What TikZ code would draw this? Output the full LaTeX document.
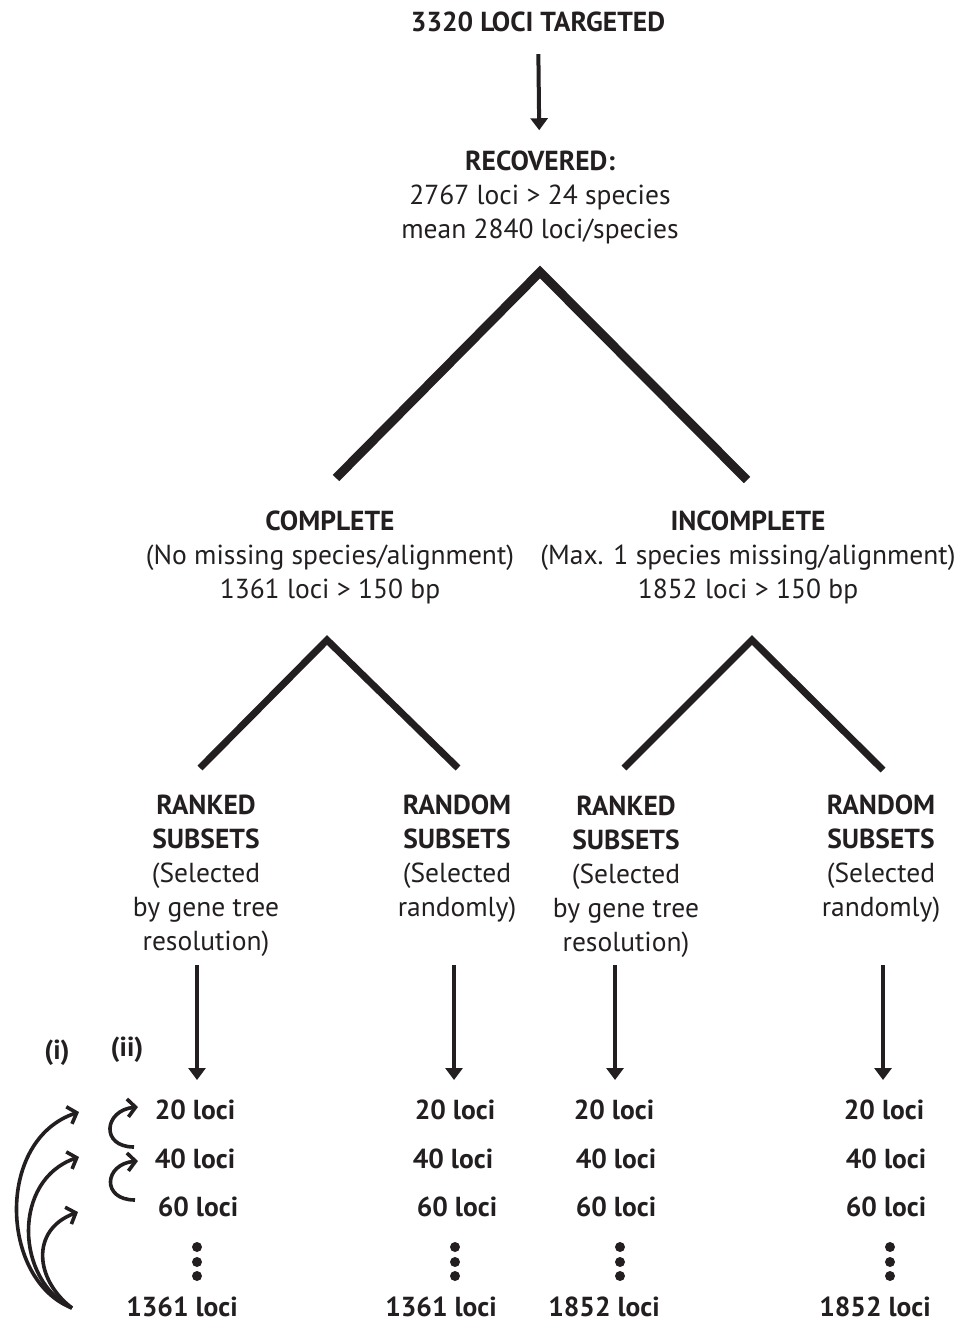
\documentclass[tikz,border=0pt]{standalone}
\usepackage{fontspec}
\setmainfont{PT Sans}
\usepackage{tikz}
\usetikzlibrary{arrows.meta,positioning,calc}
\definecolor{figink}{HTML}{231F20}

\begin{document}
\begin{tikzpicture}[x=1pt, y=-1pt, font=\fontsize{27.5}{34}\selectfont, text=figink,
  txt/.style={align=center, inner sep=0pt},
  hd/.style={txt, font=\fontsize{27.5}{34}\selectfont\bfseries},
  loc/.style={inner sep=0pt, font=\fontsize{27.5}{34}\selectfont\bfseries},
  branch/.style={draw=figink, line width=9pt, line join=miter},
  twig/.style={draw=figink, line width=7pt, line join=miter},
  down/.style={draw=figink, line width=4pt, -{Triangle[length=12pt,width=17pt]}},
  loopback/.style={draw=figink, line width=3.6pt, -{Straight Barb[length=8pt,width=18pt]}},
  dot/.style={circle, fill=figink, minimum size=10pt, inner sep=0pt}]
  \useasboundingbox (0,0) rectangle (959,1326);
  % ---- top ----
  \node[hd] (tgt) at (538,22) {3320 LOCI TARGETED};
  \node[txt] (rec) at (540,197) {\textbf{RECOVERED:}\\2767 loci > 24 species\\mean 2840 loci/species};
  \draw[down] (tgt) -- (rec) [shorten <=22pt, shorten >=20pt];
  % ---- first split ----
  \coordinate (apex) at (540,272);
  \coordinate (cl) at (336,478);
  \coordinate (cr) at (747,480);
  \draw[branch] (cl) -- (apex) -- (cr);
  \node[txt] (cmp) at (330,557) {\textbf{COMPLETE}\\(No missing species/alignment)\\1361 loci > 150 bp};
  \node[txt] (inc) at (748,557) {\textbf{INCOMPLETE}\\(Max. 1 species missing/alignment)\\1852 loci > 150 bp};
  % ---- second split ----
  \coordinate (apl) at (327,640); \coordinate (ll) at (200,768); \coordinate (lr) at (458,768);
  \coordinate (apr) at (752,640); \coordinate (rl) at (624,768); \coordinate (rr) at (883,770);
  \draw[twig] (ll) -- (apl) -- (lr);
  \draw[twig] (rl) -- (apr) -- (rr);
  \node[txt] (sub1) at (206,876) {\textbf{RANKED}\\\textbf{SUBSETS}\\(Selected\\by gene tree\\resolution)};
  \node[txt] (sub2) at (457,859) {\textbf{RANDOM}\\\textbf{SUBSETS}\\(Selected\\randomly)};
  \node[txt] (sub3) at (626,877) {\textbf{RANKED}\\\textbf{SUBSETS}\\(Selected\\by gene tree\\resolution)};
  \node[txt] (sub4) at (881,859) {\textbf{RANDOM}\\\textbf{SUBSETS}\\(Selected\\randomly)};
  % ---- subsets ----
  \foreach \c/\xa/\xb/\xc/\xd/\n/\xn in {1/195/195/198/197/1361/182, 2/455/453/457/455/1361/441, 3/614/616/616/620/1852/604, 4/884/886/886/890/1852/875} {
    \node[loc] (a\c) at (\xa,1110) {20 loci};
    \node[loc] (b\c) at (\xb,1159) {40 loci};
    \node[loc] (c\c) at (\xc,1207) {60 loci};
    \foreach \y in {1247,1262,1276} { \node[dot] at (\xd,\y) {}; }
    \node[loc] (z\c) at (\xn,1307) {\n\ loci};
  }
  \foreach \i/\x in {1/197,2/454,3/615,4/883} {
    \coordinate (s\i) at (\x,965); \coordinate (e\i) at (\x,1080);
    \draw[down] (s\i) -- (e\i);
  }
  % ---- (i) and (ii) ----
  \node[loc] (one) at (57,1053) {(i)};
  \node[loc] (two) at (127,1050) {(ii)};
  \coordinate (foot) at (72,1308);
  \coordinate (t1) at (79,1112); \coordinate (t2) at (79,1157); \coordinate (t3) at (78,1212);
  \draw[loopback] (foot) .. controls (0,1280) and (-5,1140) .. (t1);
  \draw[loopback] (foot) .. controls (15,1280) and (12,1180) .. (t2);
  \draw[loopback] (foot) .. controls (35,1280) and (30,1230) .. (t3);
  \coordinate (f1) at (134,1147); \coordinate (h1) at (138,1107);
  \coordinate (f2) at (135,1200); \coordinate (h2) at (138,1161);
  \draw[loopback] (f1) .. controls (100,1147) and (104,1110) .. (h1);
  \draw[loopback] (f2) .. controls (101,1200) and (104,1164) .. (h2);
\end{tikzpicture}
\end{document}
